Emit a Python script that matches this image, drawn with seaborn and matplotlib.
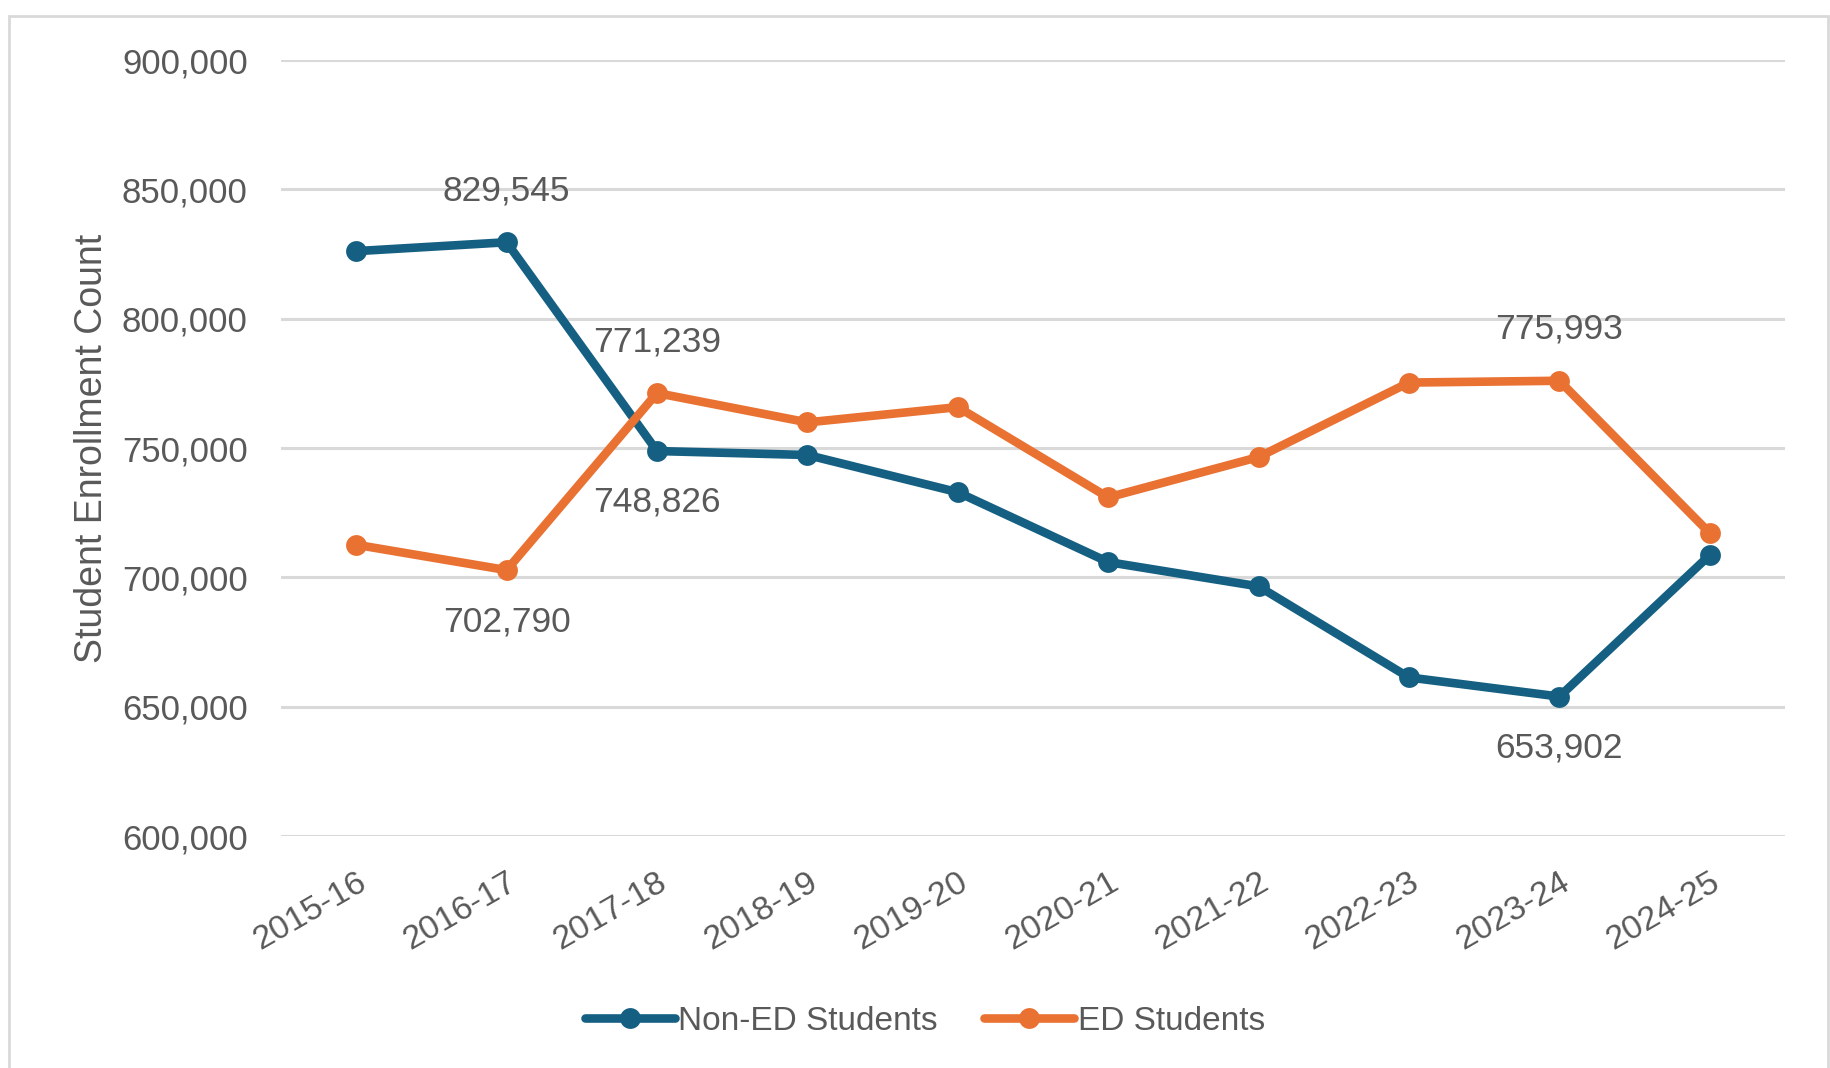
import numpy as np
import pandas as pd
import seaborn as sns
import matplotlib.pyplot as plt
from matplotlib.patches import Rectangle

# data
years = ['2015-16', '2016-17', '2017-18', '2018-19', '2019-20',
         '2020-21', '2021-22', '2022-23', '2023-24', '2024-25']
non_ed = [826100, 829545, 748826, 747300, 732900, 705900, 696500, 661300, 653902, 708600]
ed = [712600, 702790, 771239, 759900, 765800, 730900, 746500, 775300, 775993, 717100]
series_names = ['Non-ED Students', 'ED Students']
series_colors = ['#156082', '#E97132']

# which points carry a value label, and on which side
label_points = [('Non-ED Students', 1, 'above'), ('Non-ED Students', 2, 'below'),
                ('Non-ED Students', 8, 'below'), ('ED Students', 1, 'below'),
                ('ED Students', 2, 'above'), ('ED Students', 8, 'above')]

df = pd.DataFrame({
    'year': years * 2,
    'count': non_ed + ed,
    'group': [series_names[0]] * len(years) + [series_names[1]] * len(years),
})

sns.set_theme(style='white')
plt.rcParams['font.family'] = ['Liberation Sans', 'DejaVu Sans']
TEXT = '#595959'

fig = plt.figure(figsize=(18.31, 10.68), dpi=100)
ax = fig.add_axes([281 / 1831, 1 - 836 / 1068, (1785 - 281) / 1831, (836 - 60) / 1068])

sns.lineplot(data=df, x='year', y='count', hue='group', hue_order=series_names,
             palette=series_colors, sort=False, marker='o', markersize=15,
             markeredgewidth=0, linewidth=6.2, ax=ax, legend=False)

ax.set_xlim(-0.5, len(years) - 0.5)
ax.set_ylim(600000, 900000)
ax.set_yticks(np.arange(600000, 900001, 50000))
ax.yaxis.set_major_formatter(plt.FuncFormatter(lambda v, p: f'{int(v):,}'))
ax.grid(axis='y', color='#D9D9D9', linewidth=2.2)
ax.set_axisbelow(True)
for s in ax.spines.values():
    s.set_visible(False)
ax.tick_params(axis='y', length=0, pad=24, labelsize=25, labelcolor=TEXT)
ax.tick_params(axis='x', length=0, pad=22, labelsize=24.5, labelcolor=TEXT)
for lbl in ax.get_xticklabels():
    lbl.set_rotation(30)
    lbl.set_ha('right')
    lbl.set_rotation_mode('anchor')
ax.set_xlabel('')
ax.set_ylabel('Student Enrollment Count', fontsize=27, color=TEXT)
ax.yaxis.set_label_coords(-0.114, 0.5)

values = {series_names[0]: non_ed, series_names[1]: ed}
for name, i, side in label_points:
    v = values[name][i]
    off = 37 if side == 'above' else -37
    ax.annotate(f'{v:,}', (i, v), xytext=(0, off), textcoords='offset points',
                ha='center', va='center', fontsize=25.5, color=TEXT)

handles = [plt.Line2D([], [], color=c, linewidth=6.2, marker='o', markersize=15,
                      markeredgewidth=0) for c in series_colors]
fig.legend(handles, series_names, loc='center', bbox_to_anchor=(0.505, 1 - 1021 / 1068),
           ncol=2, frameon=False, fontsize=24, labelcolor=TEXT, handlelength=2.7,
           handletextpad=0.1, columnspacing=1.4)

fig.patches.append(Rectangle((9 / 1831, -0.1), (1828 - 9) / 1831, 1.1 - 16 / 1068,
                             transform=fig.transFigure, fill=False,
                             edgecolor='#D9D9D9', linewidth=2))

fig.savefig('out.png', dpi=100)
